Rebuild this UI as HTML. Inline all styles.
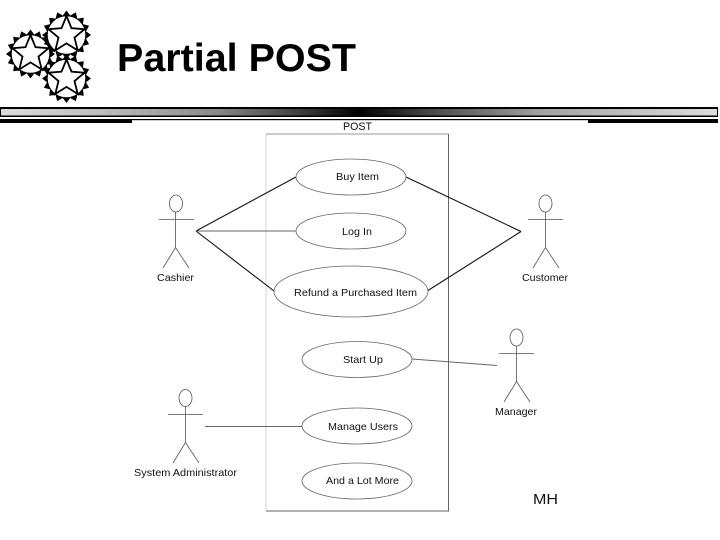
<!DOCTYPE html>
<html>
<head>
<meta charset="utf-8">
<style>
html,body{margin:0;padding:0;background:#fff;width:720px;height:540px;overflow:hidden}
svg{display:block}
text{font-family:"Liberation Sans",sans-serif;fill:#111}
</style>
</head>
<body>
<svg width="720" height="540" viewBox="0 0 720 540" xmlns="http://www.w3.org/2000/svg">
<defs>
<linearGradient id="g" x1="0" x2="1" y1="0" y2="0">
<stop offset="0" stop-color="#dcdcdc"/>
<stop offset="0.14" stop-color="#bdbdbd"/>
<stop offset="0.3" stop-color="#8a8a8a"/>
<stop offset="0.42" stop-color="#3c3c3c"/>
<stop offset="0.5" stop-color="#000"/>
<stop offset="0.6" stop-color="#484848"/>
<stop offset="0.75" stop-color="#a0a0a0"/>
<stop offset="1" stop-color="#dedede"/>
</linearGradient>
<g id="st">
<polygon fill="#000" points="0,-24.5 3.7,-19.5 9.3,-22.6 10.9,-16.4 17.3,-17.3 16.4,-10.9 22.6,-9.3 19.5,-3.7 24.5,0 19.5,3.7 22.6,9.3 16.4,10.9 17.3,17.3 10.9,16.4 9.3,22.6 3.7,19.5 0,24.5 -3.7,19.5 -9.3,22.6 -10.9,16.4 -17.3,17.3 -16.4,10.9 -22.6,9.3 -19.5,3.7 -24.5,0 -19.5,-3.7 -22.6,-9.3 -16.4,-10.9 -17.3,-17.3 -10.9,-16.4 -9.3,-22.6 -3.7,-19.5"/>
<circle r="18.8" fill="#fff"/>
<polygon fill="#fff" stroke="#000" stroke-width="1.8" points="0,-19 5,-6.8 18,-5.8 8,2.6 11.2,15.4 0,8.4 -11.2,15.4 -8,2.6 -18,-5.8 -5,-6.8"/>
</g>
</defs>

<use href="#st" x="30.5" y="54"/>
<use href="#st" x="66.5" y="35"/>
<use href="#st" x="66.5" y="78.5"/>

<text x="117" y="71" font-size="39" font-weight="bold" textLength="239" lengthAdjust="spacingAndGlyphs" style="fill:#000">Partial POST</text>

<rect x="0" y="107" width="718" height="10" fill="#000"/>
<rect x="1" y="109" width="716" height="6.5" fill="url(#g)"/>
<rect x="0" y="119" width="718" height="1.2" fill="#000"/>
<rect x="0" y="119" width="132" height="4" fill="#000"/>
<rect x="588" y="119" width="130" height="4" fill="#000"/>

<text x="343" y="130" font-size="11" textLength="29" lengthAdjust="spacingAndGlyphs">POST</text>

<line x1="266" y1="134" x2="266" y2="511" stroke="#d4d4d4" stroke-width="1"/>
<line x1="266" y1="134" x2="449" y2="134" stroke="#999" stroke-width="1"/>
<line x1="448.5" y1="134" x2="448.5" y2="511.5" stroke="#666" stroke-width="1"/>
<line x1="266" y1="511" x2="449" y2="511" stroke="#666" stroke-width="1"/>

<g fill="none" stroke="#111" stroke-width="1.1">
<line x1="196" y1="231" x2="296" y2="177"/>
<line x1="196" y1="231" x2="274" y2="291"/>
<line x1="406" y1="177" x2="521" y2="231.5"/>
<line x1="521" y1="231.5" x2="428" y2="290.5"/>
</g>
<g fill="none" stroke="#666" stroke-width="0.9">
<line x1="196" y1="231" x2="296" y2="231"/>
<line x1="412" y1="359" x2="497" y2="365.5"/>
<line x1="205" y1="426.5" x2="302" y2="426.5"/>
</g>

<g fill="#fff" stroke="#666" stroke-width="0.8">
<ellipse cx="351" cy="177" rx="55" ry="18"/>
<ellipse cx="351" cy="231" rx="55" ry="18"/>
<ellipse cx="351" cy="291.5" rx="77" ry="25.5"/>
<ellipse cx="357" cy="359.5" rx="55" ry="18"/>
<ellipse cx="357" cy="426" rx="55" ry="18"/>
<ellipse cx="357" cy="481" rx="55" ry="18"/>
</g>

<g font-size="10.5">
<text x="336" y="180" textLength="43" lengthAdjust="spacingAndGlyphs">Buy Item</text>
<text x="342" y="235" textLength="30" lengthAdjust="spacingAndGlyphs">Log In</text>
<text x="294" y="296" textLength="123" lengthAdjust="spacingAndGlyphs">Refund a Purchased Item</text>
<text x="343" y="363" textLength="40" lengthAdjust="spacingAndGlyphs">Start Up</text>
<text x="328" y="430" textLength="70" lengthAdjust="spacingAndGlyphs">Manage Users</text>
<text x="326" y="484" textLength="73" lengthAdjust="spacingAndGlyphs">And a Lot More</text>
<text x="157" y="281" textLength="37" lengthAdjust="spacingAndGlyphs">Cashier</text>
<text x="522" y="281" textLength="46" lengthAdjust="spacingAndGlyphs">Customer</text>
<text x="495" y="415" textLength="42" lengthAdjust="spacingAndGlyphs">Manager</text>
<text x="134" y="476" textLength="103" lengthAdjust="spacingAndGlyphs">System Administrator</text>
</g>

<text x="533" y="504" font-size="15" textLength="25" lengthAdjust="spacingAndGlyphs">MH</text>

<g fill="none" stroke="#555" stroke-width="0.8">
<g>
<ellipse cx="176" cy="203.5" rx="6.5" ry="8.5"/>
<path d="M159 219.5H194M175.5 212V247.5L163 268M175.5 247.5L189 268"/>
</g>
<g>
<ellipse cx="545.5" cy="203.5" rx="6.5" ry="8.5"/>
<path d="M528 219.5H563M545.5 212V247.5L533 268M545.5 247.5L559 268"/>
</g>
<g>
<ellipse cx="516.5" cy="337.5" rx="6.5" ry="8.5"/>
<path d="M499 353.5H534M516.5 346V381.5L504 402M516.5 381.5L530 402"/>
</g>
<g>
<ellipse cx="185.5" cy="398" rx="6.5" ry="8.5"/>
<path d="M168 414.5H203M185.5 406.5V442.5L173 463M185.5 442.5L199 463"/>
</g>
</g>
</svg>
</body>
</html>
